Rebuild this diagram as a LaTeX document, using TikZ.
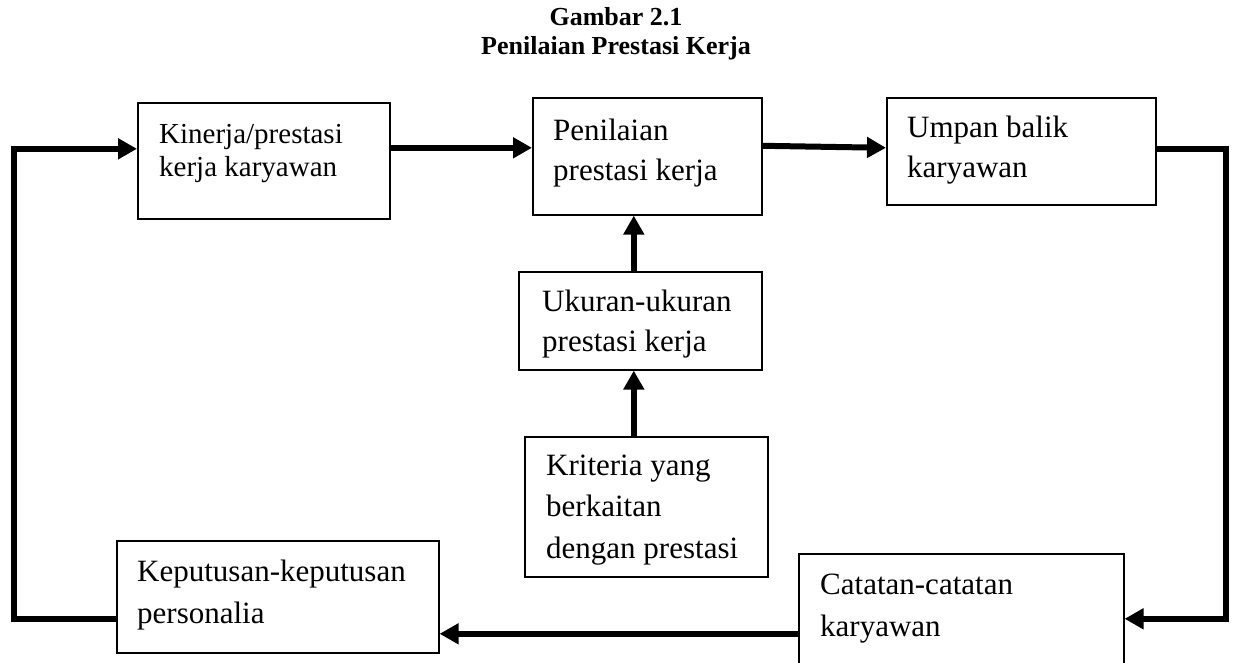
\documentclass[tikz,border=0pt]{standalone}
\usepackage{fontspec}
\setmainfont{Liberation Serif}
\usetikzlibrary{arrows.meta}
\begin{document}
\begin{tikzpicture}[x=1pt,y=-1pt,
  box/.style={draw, line width=1.6pt, inner sep=0pt, anchor=north west},
  txt/.style={anchor=base west, inner sep=0pt, font=\fontsize{31}{40}\selectfont},
  ttl/.style={anchor=base, inner sep=0pt, font=\fontsize{26}{30}\selectfont\bfseries},
  arr/.style={line width=6pt, line join=miter, -{Triangle[length=19pt,width=20pt]}}]
\useasboundingbox (0,0) rectangle (1233,662);
\clip (0,0) rectangle (1233,662);
\fill[white] (0,0) rectangle (1233,662);
% title
\node[ttl] (t1) at (616,25) {Gambar 2.1};
\node[ttl] (t2) at (616,54) {Penilaian Prestasi Kerja};
% boxes
\node[box, minimum width=252pt, minimum height=116pt] (A) at (137,102) {};
\node[box, minimum width=229pt, minimum height=117pt] (B) at (532,97) {};
\node[box, minimum width=269pt, minimum height=107pt] (C) at (886,97) {};
\node[box, minimum width=243pt, minimum height=98pt] (D) at (518,271) {};
\node[box, minimum width=243pt, minimum height=140pt] (E) at (524,436) {};
\node[box, minimum width=322pt, minimum height=112pt] (F) at (116,540) {};
\node[box, minimum width=325pt, minimum height=150pt] (G) at (798,553) {};
% texts
\node[txt] (At) at (159,143) {\parbox[t]{300pt}{\fontsize{29}{33}\selectfont Kinerja/prestasi\\kerja karyawan}};
\node[txt] (Bt) at (553,140) {\parbox[t]{300pt}{Penilaian\\prestasi kerja}};
\node[txt] (Ct) at (907,137) {\parbox[t]{300pt}{Umpan balik\\karyawan}};
\node[txt] (Dt) at (542,311) {\parbox[t]{300pt}{Ukuran-ukuran\\prestasi kerja}};
\node[txt] (Et) at (546,475) {\parbox[t]{300pt}{\fontsize{31}{41.5}\selectfont Kriteria yang\\berkaitan\\dengan prestasi}};
\node[txt] (Ft) at (137,581) {\parbox[t]{350pt}{\fontsize{31}{42}\selectfont Keputusan-keputusan\\personalia}};
\node[txt] (Gt) at (820,594) {\parbox[t]{350pt}{\fontsize{31}{42}\selectfont Catatan-catatan\\karyawan}};
% connectors
\coordinate (L) at (14,0);
\coordinate (R) at (1226,0);
\draw[arr] ([yshift=13pt]A.east) -- ([yshift=13pt]A.east -| B.west);
\draw[arr] ([yshift=10.5pt]B.east) -- ([yshift=3.5pt]C.west);
\draw[arr] ([yshift=2.5pt]C.east) -- ([yshift=2.5pt]C.east -| R) -- ([yshift=10pt]G.east -| R) -- ([yshift=10pt]G.east);
\draw[arr] ([yshift=-5pt]G.west) -- ([yshift=-5pt]G.west -| F.east);
\draw[arr] ([yshift=-22pt]F.west) -- ([yshift=-22pt]F.west -| L) -- ([yshift=12pt]A.west -| L) -- ([yshift=12pt]A.west);
\draw[arr] ([xshift=-12.5pt]E.north) -- ([xshift=-12.5pt]E.north |- D.south);
\draw[arr] ([xshift=-6.5pt]D.north) -- ([xshift=-6.5pt]D.north |- B.south);
\end{tikzpicture}
\end{document}
